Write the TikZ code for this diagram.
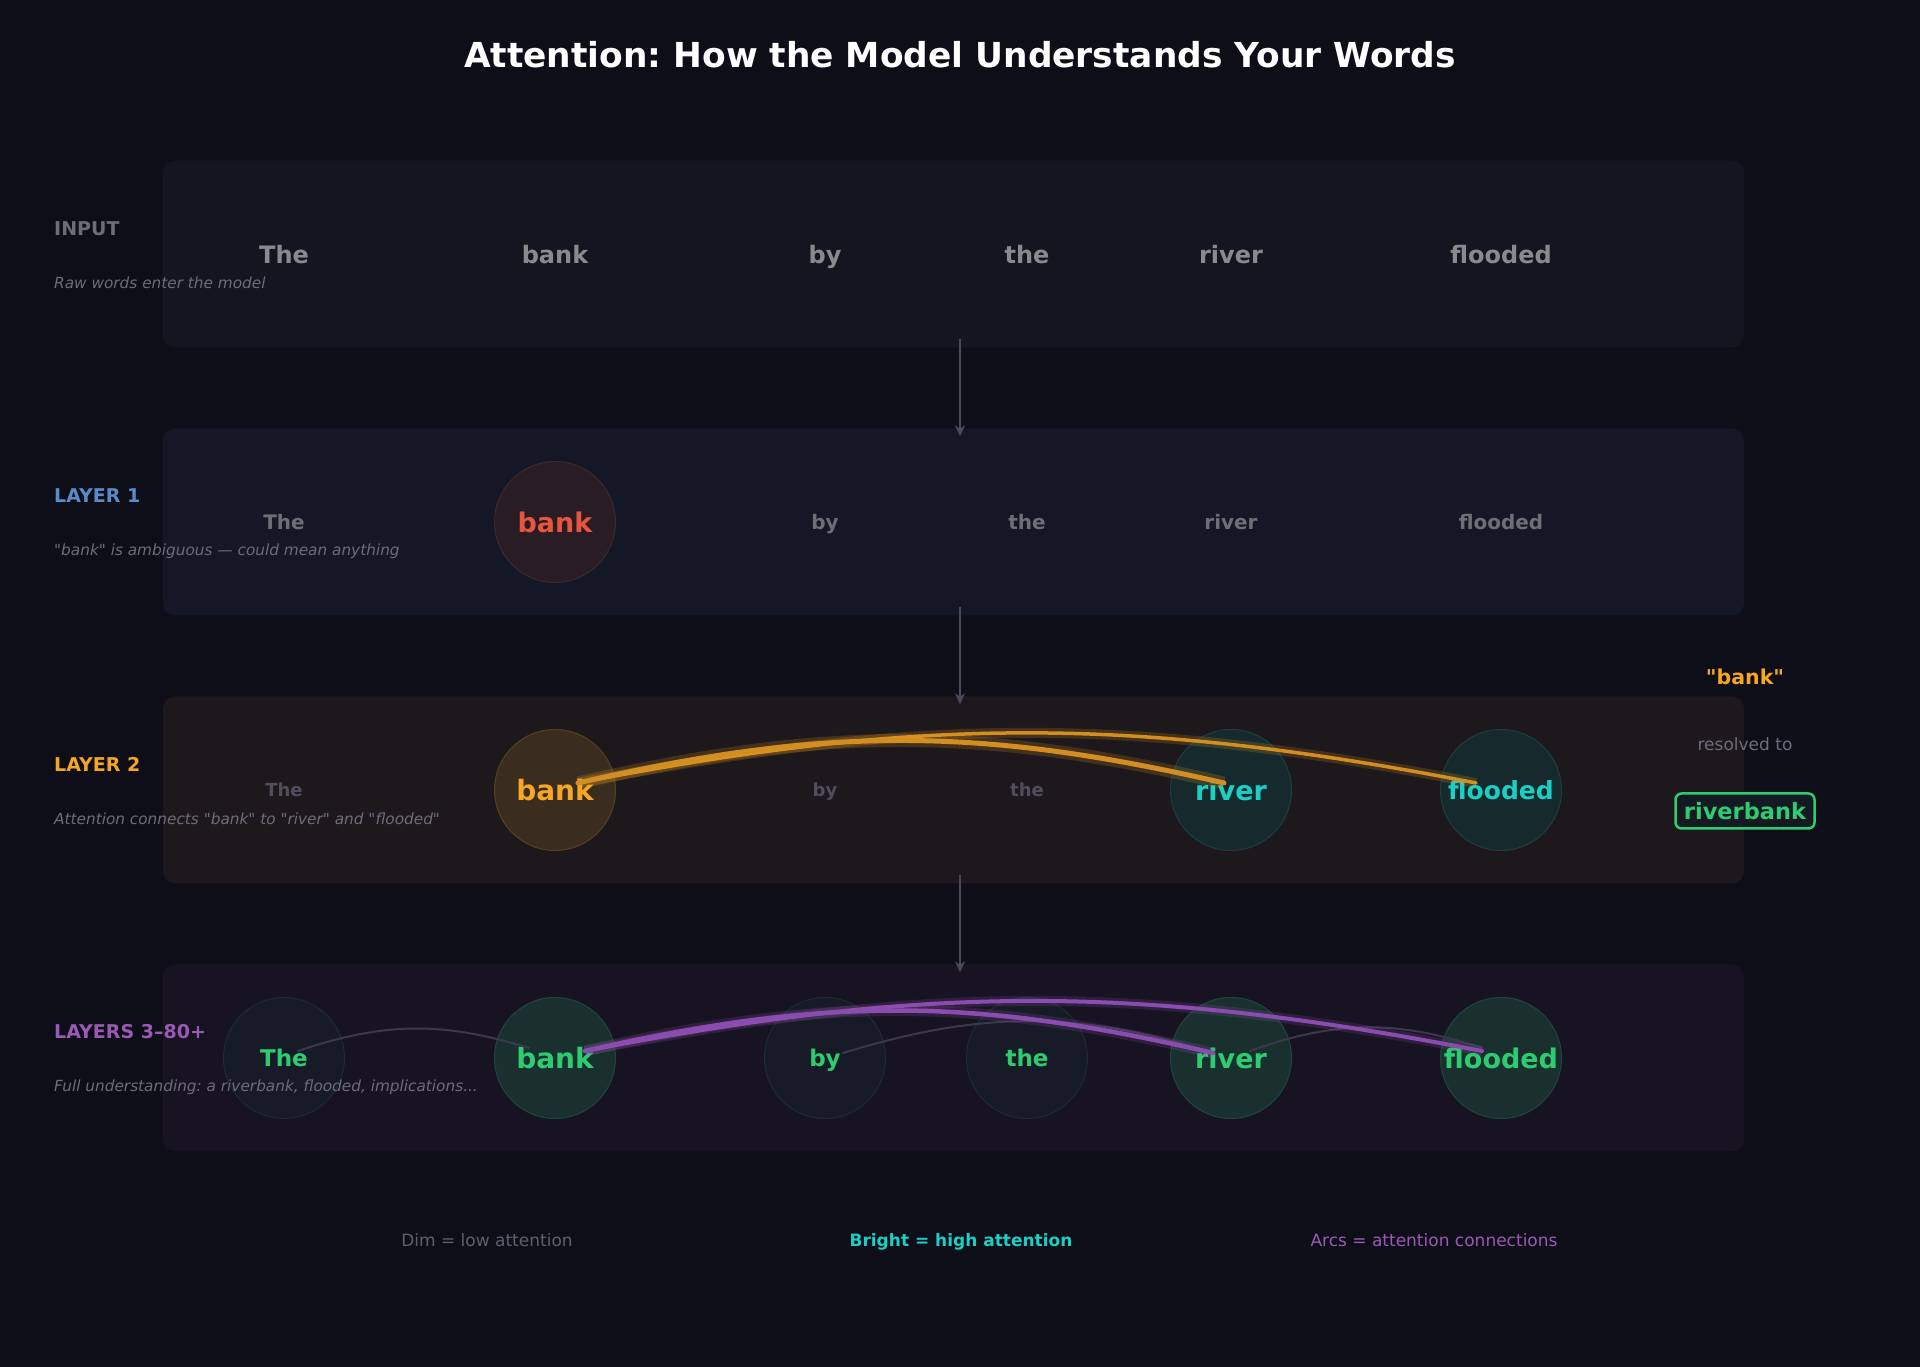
\documentclass[tikz,border=0pt]{standalone}
\usepackage{fontspec}
\setmainfont{DejaVu Sans}
\usepackage{tikz}
\usetikzlibrary{positioning,arrows.meta}
\frenchspacing

\definecolor{bgC}{HTML}{0E0E18}
\definecolor{bandin}{HTML}{141520}
\definecolor{bandone}{HTML}{131726}
\definecolor{bandtwo}{HTML}{1C181C}
\definecolor{bandthree}{HTML}{171322}
\definecolor{arrowgray}{HTML}{4A4A5A}
\definecolor{labelgray}{HTML}{6B6E78}
\definecolor{subgray}{HTML}{6C6C7C}
\definecolor{wordgray}{HTML}{8A8A8E}
\definecolor{dimone}{HTML}{6E6E76}
\definecolor{dimtwo}{HTML}{504E5C}
\definecolor{blueL}{HTML}{5B8BC6}
\definecolor{orangeL}{HTML}{F5A623}
\definecolor{orangearc}{HTML}{D38E22}
\definecolor{purpleL}{HTML}{9B59B6}
\definecolor{purplearc}{HTML}{8A4CAE}
\definecolor{thinarc}{HTML}{3C384C}
\definecolor{redW}{HTML}{E8553D}
\definecolor{cyanW}{HTML}{1CCFC4}
\definecolor{greenW}{HTML}{2ECC71}
\definecolor{legdim}{HTML}{5F5F6F}
\definecolor{redfill}{HTML}{2A1C24}
\definecolor{redline}{HTML}{3B2A2C}
\definecolor{orangefill}{HTML}{3A2D1F}
\definecolor{orangeline}{HTML}{56411F}
\definecolor{cyanfill}{HTML}{162A2D}
\definecolor{cyanline}{HTML}{1F3E3F}
\definecolor{greenfill}{HTML}{19302E}
\definecolor{greenline}{HTML}{1F4540}
\definecolor{dimfill}{HTML}{171B27}
\definecolor{dimline}{HTML}{1D2B33}
\definecolor{boxfill}{HTML}{151A22}

\newcommand{\fsz}[1]{\fontsize{#1}{#1}\selectfont}
\newcommand{\qt}{\textquotedbl}

\tikzset{
    band/.style={
           rectangle,
           rounded corners=12pt,
           minimum width=1581pt,
           minimum height=187pt,
           inner sep=0pt,
           },
    word/.style={
           inner sep=0pt,
           text depth=0pt,
           font=\bfseries\fsz{20},
           text=dimone,
           },
    bubble/.style={
           circle,
           minimum size=121pt,
           line width=1pt,
           },
    layerlabel/.style={
           anchor=west,
           inner sep=0pt,
           font=\bfseries\fsz{19},
           },
    layersub/.style={
           anchor=west,
           inner sep=0pt,
           font=\itshape\fsz{15.3},
           text=subgray,
           },
    legend/.style={
           inner sep=0pt,
           text depth=0pt,
           font=\fsz{17},
           },
    flow/.style={
           arrowgray,
           line width=2.7pt,
           -{Stealth[length=11pt,width=10pt]},
           },
    orangeglow/.style={
           draw=orangearc,
           line cap=round,
           preaction={draw=orangeL, line width=#1, opacity=0.18},
           },
    purpleglow/.style={
           draw=purplearc,
           line cap=round,
           preaction={draw=purpleL, line width=#1, opacity=0.18},
           },
    weakarc/.style={
           draw=thinarc,
           line width=2pt,
           line cap=round,
           },
}

\begin{document}
\begin{tikzpicture}[x=1pt,y=1pt]

 % page and background
 \fill[bgC] (0,0) rectangle (1920,1367);
 \useasboundingbox (0,0) rectangle (1920,1367);

 % title
 \node[text=white, font=\bfseries\fsz{34.4}] (TITLE) at (960,1312)
 {Attention: How the Model Understands Your Words};

 % the four bands
 \node[band, fill=bandin] (INBAND) at (953.5,1113) {};
 \node[band, fill=bandone,
 below of=INBAND,
 node distance=268pt] (ONEBAND) {};
 \node[band, fill=bandtwo,
 below of=ONEBAND,
 node distance=268pt] (TWOBAND) {};
 \node[band, fill=bandthree,
 below of=TWOBAND,
 node distance=268pt] (THREEBAND) {};

 % INPUT words
 \node[word, font=\bfseries\fsz{24}, text=wordgray] (INTHE) at (284,1113) {The};
 \node[word, font=\bfseries\fsz{24}, text=wordgray,
 right of=INTHE, node distance=271pt] (INBANK) {bank};
 \node[word, font=\bfseries\fsz{24}, text=wordgray,
 right of=INBANK, node distance=270pt] (INBY) {by};
 \node[word, font=\bfseries\fsz{24}, text=wordgray,
 right of=INBY, node distance=202pt] (INTHEB) {the};
 \node[word, font=\bfseries\fsz{24}, text=wordgray,
 right of=INTHEB, node distance=204pt] (INRIVER) {river};
 \node[word, font=\bfseries\fsz{24}, text=wordgray,
 right of=INRIVER, node distance=270pt] (INFLOOD) {flooded};

 % LAYER 1 words
 \node[word, below of=INTHE, node distance=268pt] (ONETHE) {The};
 \node[word, bubble, fill=redfill, draw=redline,
 font=\bfseries\fsz{27}, text=redW,
 below of=INBANK, node distance=268pt] (ONEBANK) {bank};
 \node[word, below of=INBY, node distance=268pt] (ONEBY) {by};
 \node[word, below of=INTHEB, node distance=268pt] (ONETHEB) {the};
 \node[word, below of=INRIVER, node distance=268pt] (ONERIVER) {river};
 \node[word, below of=INFLOOD, node distance=268pt] (ONEFLOOD) {flooded};

 % LAYER 2 words
 \node[word, font=\bfseries\fsz{18}, text=dimtwo,
 below of=ONETHE, node distance=268pt] (TWOTHE) {The};
 \node[word, bubble, fill=orangefill, draw=orangeline,
 font=\bfseries\fsz{28}, text=orangeL,
 below of=ONEBANK, node distance=268pt] (TWOBANK) {bank};
 \node[word, font=\bfseries\fsz{18}, text=dimtwo,
 below of=ONEBY, node distance=268pt] (TWOBY) {by};
 \node[word, font=\bfseries\fsz{18}, text=dimtwo,
 below of=ONETHEB, node distance=268pt] (TWOTHEB) {the};
 \node[word, bubble, fill=cyanfill, draw=cyanline,
 font=\bfseries\fsz{27}, text=cyanW,
 below of=ONERIVER, node distance=268pt] (TWORIVER) {river};
 \node[word, bubble, fill=cyanfill, draw=cyanline,
 font=\bfseries\fsz{25}, text=cyanW,
 below of=ONEFLOOD, node distance=268pt] (TWOFLOOD) {flooded};

 % LAYERS 3-80+ words
 \node[word, bubble, fill=dimfill, draw=dimline,
 font=\bfseries\fsz{23}, text=greenW,
 below of=TWOTHE, node distance=268pt] (THREETHE) {The};
 \node[word, bubble, fill=greenfill, draw=greenline,
 font=\bfseries\fsz{28}, text=greenW,
 below of=TWOBANK, node distance=268pt] (THREEBANK) {bank};
 \node[word, bubble, fill=dimfill, draw=dimline,
 font=\bfseries\fsz{23}, text=greenW,
 below of=TWOBY, node distance=268pt] (THREEBY) {by};
 \node[word, bubble, fill=dimfill, draw=dimline,
 font=\bfseries\fsz{23}, text=greenW,
 below of=TWOTHEB, node distance=268pt] (THREETHEB) {the};
 \node[word, bubble, fill=greenfill, draw=greenline,
 font=\bfseries\fsz{27}, text=greenW,
 below of=TWORIVER, node distance=268pt] (THREERIVER) {river};
 \node[word, bubble, fill=greenfill, draw=greenline,
 font=\bfseries\fsz{27}, text=greenW,
 below of=TWOFLOOD, node distance=268pt] (THREEFLOOD) {flooded};

 % labels on the left
 \node[layerlabel, text=labelgray] (INLABEL) at (54,1138) {INPUT};
 \node[layersub] (INSUB) at (54,1084) {Raw words enter the model};
 \node[layerlabel, text=blueL] (ONELABEL) at (54,871) {LAYER 1};
 \node[layersub] (ONESUB) at (54,816) {\qt bank\qt{} is ambiguous — could mean anything};
 \node[layerlabel, text=orangeL] (TWOLABEL) at (54,603) {LAYER 2};
 \node[layersub] (TWOSUB) at (54,548) {Attention connects \qt bank\qt{} to \qt river\qt{} and \qt flooded\qt};
 \node[layerlabel, text=purpleL] (THREELABEL) at (54,335) {LAYERS 3–80+};
 \node[layersub] (THREESUB) at (54,280) {Full understanding: a riverbank, flooded, implications...};

 % arrows between the bands
 \path[flow]
 ([xshift=6.5pt,yshift=9pt]INBAND.south) edge ([xshift=6.5pt,yshift=-8pt]ONEBAND.north)
 ([xshift=6.5pt,yshift=9pt]ONEBAND.south) edge ([xshift=6.5pt,yshift=-8pt]TWOBAND.north)
 ([xshift=6.5pt,yshift=9pt]TWOBAND.south) edge ([xshift=6.5pt,yshift=-8pt]THREEBAND.north)
 ;

 % attention arcs, layer 2
 \draw[orangeglow=10pt, line width=3.5pt]
 ([xshift=23pt,yshift=7pt]TWOBANK.center) to[bend left=11] ([xshift=-25pt,yshift=7pt]TWOFLOOD.center);
 \draw[orangeglow=13pt, line width=5pt]
 ([xshift=23pt,yshift=7pt]TWOBANK.center) to[bend left=13] ([xshift=-7pt,yshift=7pt]TWORIVER.center);

 % attention arcs, layers 3-80+
 \draw[weakarc]
 ([xshift=14pt,yshift=7pt]THREETHE.center) to[bend left=18] ([xshift=-26pt,yshift=10pt]THREEBANK.center);
 \draw[weakarc]
 ([xshift=18pt,yshift=5pt]THREEBY.center) to[bend left=17] ([xshift=-16pt,yshift=5pt]THREERIVER.center);
 \draw[weakarc]
 ([xshift=19pt,yshift=7pt]THREERIVER.center) to[bend left=19] ([xshift=-19pt,yshift=10pt]THREEFLOOD.center);
 \draw[purpleglow=10pt, line width=4pt]
 ([xshift=30pt,yshift=7pt]THREEBANK.center) to[bend left=11] ([xshift=-19pt,yshift=7pt]THREEFLOOD.center);
 \draw[purpleglow=11pt, line width=4.5pt]
 ([xshift=30pt,yshift=7pt]THREEBANK.center) to[bend left=13] ([xshift=-18pt,yshift=5pt]THREERIVER.center);

 % result on the right
 \node[font=\bfseries\fsz{20.5}, text=orangeL] (RQUOTE) at (1745,690) {\qt bank\qt};
 \node[font=\fsz{17}, text=subgray,
 below of=RQUOTE, node distance=67pt] (RESOLVED) {resolved to};
 \node[font=\bfseries\fsz{22.5}, text=greenW,
 draw=greenW, line width=2.5pt, fill=boxfill,
 rounded corners=6pt,
 minimum width=139pt, minimum height=35pt, inner sep=0pt,
 below of=RESOLVED, node distance=67pt] (RIVERBANK) {riverbank};

 % legend
 \node[legend, text=legdim] (LEGDIM) at (487,127) {Dim = low attention};
 \node[legend, font=\bfseries\fsz{17}, text=cyanW,
 right of=LEGDIM, node distance=474pt] (LEGBRIGHT) {Bright = high attention};
 \node[legend, text=purpleL,
 right of=LEGBRIGHT, node distance=473pt] (LEGARCS) {Arcs = attention connections};

\end{tikzpicture}
\end{document}
